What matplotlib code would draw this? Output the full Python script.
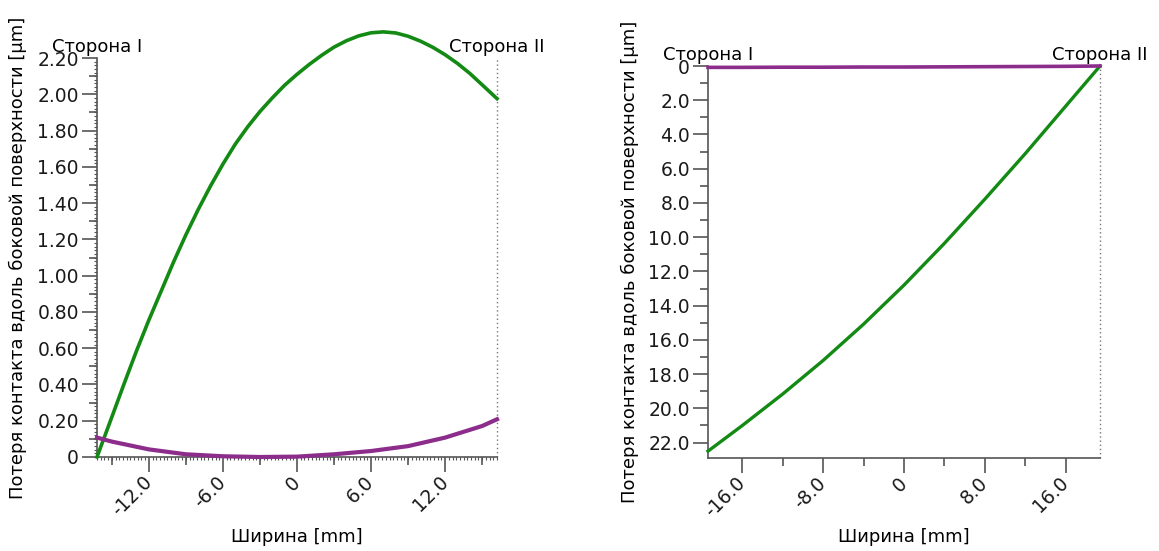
import matplotlib as mpl
mpl.use('Agg')
import matplotlib.pyplot as plt
import matplotlib.ticker as mticker
import numpy as np

# ---- data ----
# left chart: width [mm] vs contact loss [um]
left_x = [-16.2, -15, -14, -13, -12, -11, -10, -9, -8, -7, -6, -5, -4, -3, -2, -1, 0,
          1, 2, 3, 4, 5, 6, 7, 8, 9, 10, 11, 12, 13, 14, 15, 16.2]
left_green = [0.0, 0.22, 0.405, 0.585, 0.755, 0.915, 1.075, 1.225, 1.365, 1.495, 1.615,
              1.725, 1.82, 1.905, 1.98, 2.05, 2.11, 2.165, 2.215, 2.26, 2.295, 2.322,
              2.339, 2.344, 2.338, 2.32, 2.293, 2.259, 2.218, 2.17, 2.115, 2.052, 1.976]
left_purple_x = [-16.2, -15, -12, -9, -6, -3, 0, 3, 6, 9, 12, 15, 16.2]
left_purple = [0.107, 0.085, 0.042, 0.015, 0.004, 0.0, 0.002, 0.015, 0.033, 0.06, 0.107, 0.171, 0.208]

# right chart
right_x = [-19.4, -16, -12, -8, -4, 0, 4, 8, 12, 16, 19.4]
right_green = [22.5, 21.0, 19.16, 17.2, 15.08, 12.8, 10.36, 7.78, 5.12, 2.35, 0.0]
right_purple = [0.08, 0.08, 0.07, 0.07, 0.06, 0.06, 0.05, 0.04, 0.03, 0.02, 0.0]

side_left = 'Сторона I'
side_right = 'Сторона II'
xlab = 'Ширина [mm]'
ylab = 'Потеря контакта вдоль боковой поверхности [µm]'

green = '#138a13'
purple = '#8c2d8c'
axcol = '#555555'
fs = 13
tfs = 13.5

plt.rcParams['font.family'] = ['DejaVu Sans']
plt.rcParams['font.size'] = fs

fig = plt.figure(figsize=(11.59, 5.51), dpi=100)
W, H = 1159, 551
ax1 = fig.add_axes([97 / W, 1 - 457 / H, 400 / W, 399 / H])
ax2 = fig.add_axes([708 / W, 1 - 458 / H, 392 / W, 392 / H])


def fmt(dec):
    def f(v, pos):
        if abs(v) < 1e-9:
            return '0'
        return f'{v:.{dec}f}'
    return mticker.FuncFormatter(f)


def style(ax):
    ax.spines['top'].set_visible(False)
    ax.spines['right'].set_visible(False)
    for s in ['left', 'bottom']:
        ax.spines[s].set_color(axcol)
        ax.spines[s].set_linewidth(1.2)
    ax.axvline(ax.get_xlim()[1], color='#777777', ls=(0, (1, 2)), lw=1.0, clip_on=False)
    ax.tick_params(which='major', length=11, width=1.2, color=axcol, labelcolor='#1a1a1a',
                   labelsize=tfs, pad=2)
    ax.tick_params(axis='x', which='major', pad=5)
    for lab in ax.get_xticklabels():
        lab.set_rotation(45)
        lab.set_ha('right')
        lab.set_va('center')
        lab.set_rotation_mode('anchor')
    ax.annotate(side_left, (0, 1), xycoords='axes fraction', xytext=(0, 8),
                textcoords='offset points', ha='center', va='center', fontsize=fs)
    ax.annotate(side_right, (1, 1), xycoords='axes fraction', xytext=(0, 8),
                textcoords='offset points', ha='center', va='center', fontsize=fs)
    ax.set_xlabel(xlab, fontsize=fs)
    ax.set_ylabel(ylab, fontsize=fs)


# ---- left chart ----
ax1.plot(left_x, left_green, color=green, lw=2.6, clip_on=False, zorder=3)
ax1.plot(left_purple_x, left_purple, color=purple, lw=3.0, clip_on=False, zorder=3)
ax1.set_xlim(-16.2, 16.2)
ax1.set_ylim(0, 2.2)
ax1.xaxis.set_major_locator(mticker.MultipleLocator(6))
ax1.xaxis.set_minor_locator(mticker.MultipleLocator(0.3))
ax1.yaxis.set_major_locator(mticker.MultipleLocator(0.2))
ax1.yaxis.set_minor_locator(mticker.MultipleLocator(0.02))
ax1.xaxis.set_major_formatter(fmt(1))
ax1.yaxis.set_major_formatter(fmt(2))
ax1.tick_params(which='minor', length=2.2, width=0.8, color=axcol)
style(ax1)
# medium ticks on the left chart
sx = ax1.secondary_xaxis('bottom')
sx.set_xticks([-15, -9, -3, 3, 9, 15])
sx.tick_params(length=5.5, width=1.2, color=axcol, labelbottom=False)
sx.spines['bottom'].set_visible(False)
sy = ax1.secondary_yaxis('left')
sy.set_yticks(np.arange(0.1, 2.2, 0.2))
sy.tick_params(length=5.5, width=1.2, color=axcol, labelleft=False)
sy.spines['left'].set_visible(False)
ax1.xaxis.set_label_coords(0.5, -0.2, transform=ax1.transAxes)
ax1.xaxis.label.set_va('center')
ax1.yaxis.set_label_coords(-0.1975, 0.5, transform=ax1.transAxes)
ax1.yaxis.label.set_va('center')

# ---- right chart ----
ax2.plot(right_x, right_green, color=green, lw=2.4, clip_on=False, zorder=3)
ax2.plot(right_x, right_purple, color=purple, lw=2.6, clip_on=False, zorder=3)
ax2.set_xlim(-19.4, 19.4)
ax2.set_ylim(22.9, 0)
ax2.xaxis.set_major_locator(mticker.MultipleLocator(8))
ax2.xaxis.set_minor_locator(mticker.MultipleLocator(4))
ax2.yaxis.set_major_locator(mticker.MultipleLocator(2))
ax2.yaxis.set_minor_locator(mticker.MultipleLocator(1))
ax2.xaxis.set_major_formatter(fmt(1))
ax2.yaxis.set_major_formatter(fmt(1))
ax2.tick_params(which='minor', length=5.5, width=1.2, color=axcol)
style(ax2)
ax2.xaxis.set_label_coords(0.5, -0.2015, transform=ax2.transAxes)
ax2.xaxis.label.set_va('center')
ax2.yaxis.set_label_coords(-0.199, 0.5, transform=ax2.transAxes)
ax2.yaxis.label.set_va('center')

fig.savefig('out.png', dpi=100)
